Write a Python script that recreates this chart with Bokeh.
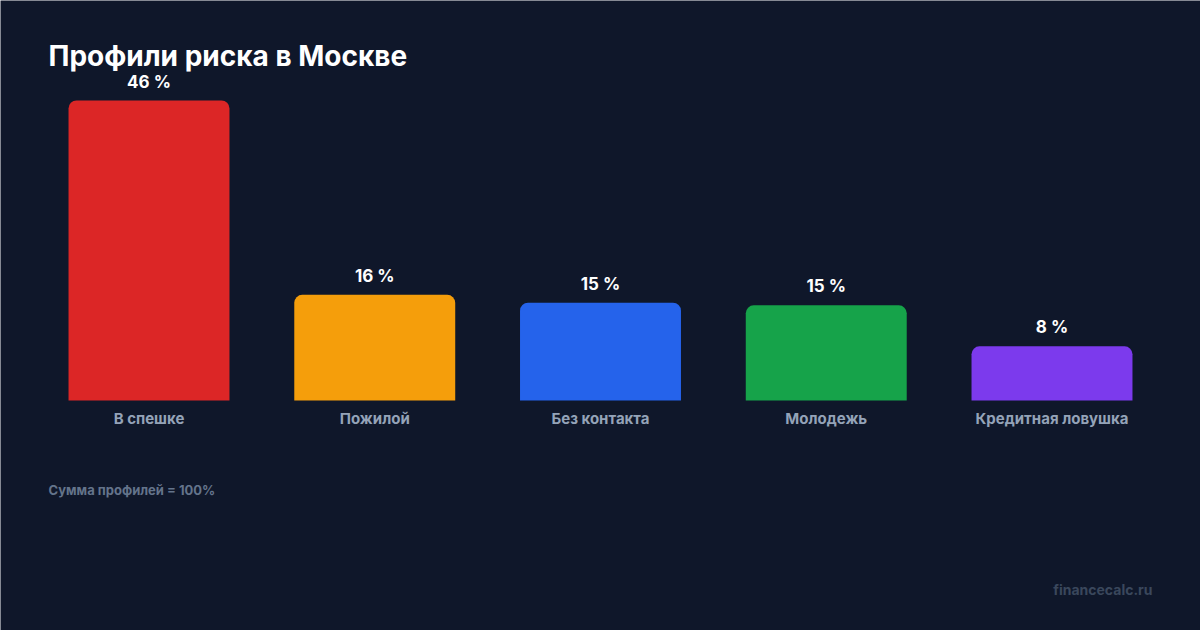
from bokeh.plotting import figure
from bokeh.models import ColumnDataSource, Range1d, Label
from bokeh.core.properties import value
from bokeh.embed import file_html
from bokeh.resources import INLINE

# ---- data ----
categories = ["В спешке", "Пожилой", "Без контакта", "Молодежь", "Кредитная ловушка"]
shares = [46.0, 16.2, 15.0, 14.6, 8.3]
bar_colors = ["#dc2626", "#f59e0b", "#2563eb", "#16a34a", "#7c3aed"]
title_text = "Профили риска в Москве"
footnote_text = "Сумма профилей = 100%"
source_text = "financecalc.ru"

value_labels = [f"{int(v + 0.5)} %" for v in shares]
positions = list(range(len(categories)))

BG = "#0f172a"
FONT = "Inter"

src = ColumnDataSource(dict(pos=positions, cat=categories, val=shares,
                            color=bar_colors, lab=value_labels))

# layout: slot width 225.75 px, first slot centre at 148.5 px, baseline at 400 px
slot = 225.75
first = 148.5
x_start = -first / slot
x_end = (1200 - first) / slot
px_per_unit = 300 / 46.0
y_start = -(630 - 400) / px_per_unit
y_end = 400 / px_per_unit

p = figure(width=1200, height=630, output_backend="svg", toolbar_location=None,
           x_range=Range1d(x_start, x_end), y_range=Range1d(y_start, y_end),
           x_axis_location=None, y_axis_location=None,
           min_border=0, min_border_left=0, min_border_right=0,
           min_border_top=0, min_border_bottom=0)
p.extra_x_ranges = {"px": Range1d(0, 1200)}
p.extra_y_ranges = {"px": Range1d(630, 0)}

p.background_fill_color = BG
p.border_fill_color = BG
p.outline_line_color = None
p.xgrid.visible = False
p.ygrid.visible = False

p.vbar(x="pos", top="val", bottom=0, width=0.713, source=src,
       fill_color="color", line_color=None, border_radius=(8, 8, 0, 0))

p.text(x="pos", y="val", text="lab", source=src, y_offset=-19,
       text_align="center", text_baseline="alphabetic",
       text_font=value(FONT), text_font_style="bold", text_font_size="17px",
       text_color="#ffffff")

p.text(x="pos", y=418, text="cat", source=src, y_range_name="px",
       text_align="center", text_baseline="alphabetic",
       text_font=value(FONT), text_font_style="bold", text_font_size="15px",
       text_color="#94a3b8")

p.add_layout(Label(x=48, y=55, text=title_text, x_range_name="px", y_range_name="px",
                   text_align="left", text_baseline="alphabetic",
                   text_font=FONT, text_font_style="bold", text_font_size="28px",
                   text_color="#ffffff"))
p.add_layout(Label(x=48, y=489, text=footnote_text, x_range_name="px", y_range_name="px",
                   text_align="left", text_baseline="alphabetic",
                   text_font=FONT, text_font_style="bold", text_font_size="13px",
                   text_color="#64748b"))
p.add_layout(Label(x=1152, y=589, text=source_text, x_range_name="px", y_range_name="px",
                   text_align="right", text_baseline="alphabetic",
                   text_font=FONT, text_font_style="bold", text_font_size="14px",
                   text_color="#3a475c"))

open("out.html", "w").write(file_html(p, INLINE))
